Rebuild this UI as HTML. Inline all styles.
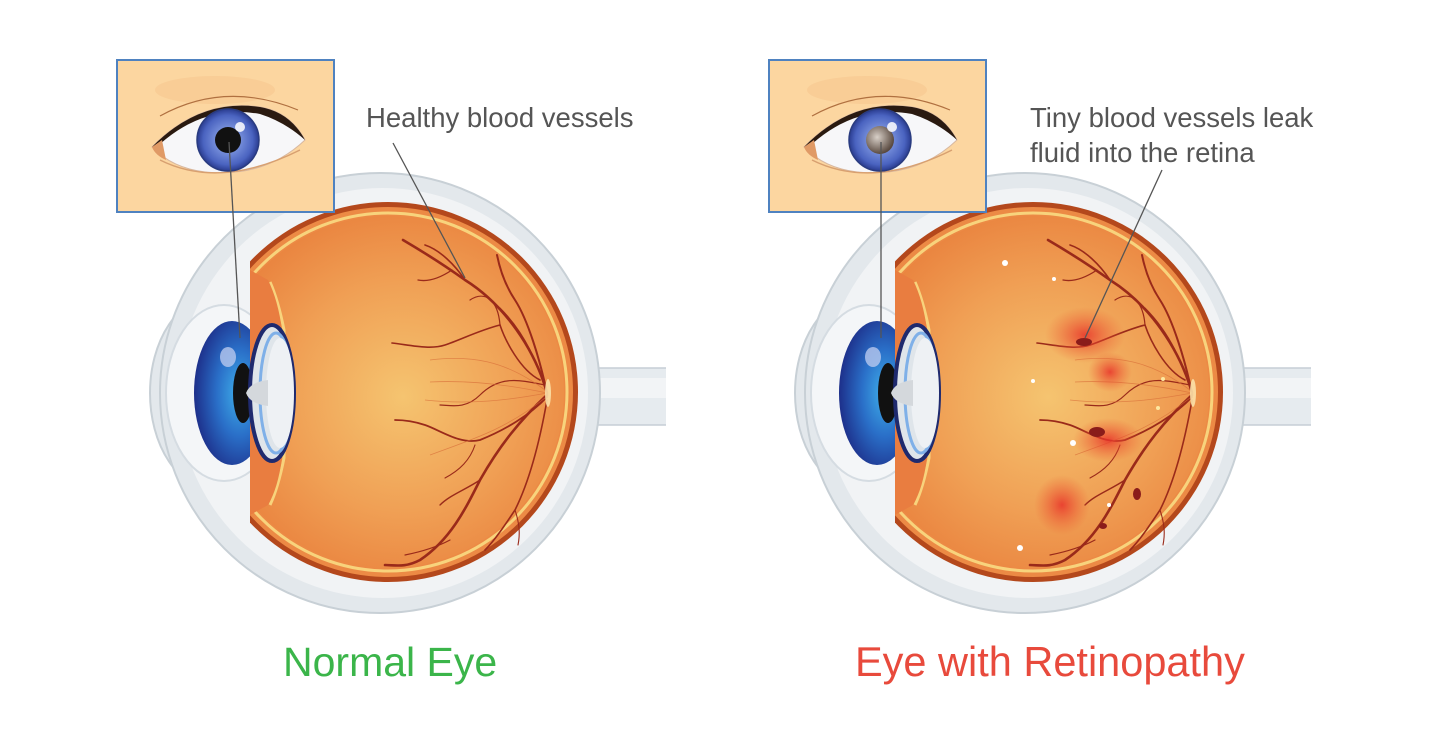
<!DOCTYPE html>
<html><head><meta charset="utf-8"><style>
html,body{margin:0;padding:0;background:#fff;}
svg{display:block;}
</style></head><body>
<svg width="1430" height="746" viewBox="0 0 1430 746" xmlns="http://www.w3.org/2000/svg">
<defs>
<radialGradient id="vit" cx="403" cy="397" r="190" gradientUnits="userSpaceOnUse">
<stop offset="0" stop-color="#f5c470"/><stop offset="0.6" stop-color="#f0a055"/><stop offset="1" stop-color="#ea8540"/></radialGradient>
<radialGradient id="iris" cx="0.6" cy="0.5" r="0.6">
<stop offset="0" stop-color="#3fb0ea"/><stop offset="0.5" stop-color="#2a6fc8"/><stop offset="1" stop-color="#1d2f8a"/></radialGradient>
<radialGradient id="iris2" cx="0.5" cy="0.5" r="0.5">
<stop offset="0.3" stop-color="#7f98e0"/><stop offset="0.8" stop-color="#4a63c0"/><stop offset="1" stop-color="#2a3c90"/></radialGradient>
<radialGradient id="cat" cx="0.4" cy="0.4" r="0.6">
<stop offset="0" stop-color="#d8d0c8"/><stop offset="1" stop-color="#5a4a40"/></radialGradient>
<radialGradient id="blot" cx="0.5" cy="0.5" r="0.5">
<stop offset="0" stop-color="#e8332a" stop-opacity="0.85"/><stop offset="1" stop-color="#ec5a30" stop-opacity="0"/></radialGradient>
<clipPath id="oclip"><rect x="250" y="0" width="500" height="746"/></clipPath>
<g id="globe">
  <rect x="590" y="368" width="76" height="57" fill="#e6ebef"/>
  <rect x="590" y="378" width="76" height="20" fill="#f2f4f6"/>
  <line x1="590" y1="368" x2="666" y2="368" stroke="#c5ced5" stroke-width="1.5"/>
  <line x1="590" y1="425" x2="666" y2="425" stroke="#c5ced5" stroke-width="1.5"/>
  <ellipse cx="215" cy="393" rx="65" ry="97" fill="#e3e8ec" stroke="#c8d0d6" stroke-width="2"/>
  <circle cx="380" cy="393" r="220" fill="#e3e8ec" stroke="#c8d0d6" stroke-width="2"/>
  <circle cx="383" cy="393" r="205" fill="#f1f3f5"/>
  <ellipse cx="224" cy="393" rx="58" ry="88" fill="#f4f6f8" stroke="#d5dce2" stroke-width="2"/>
  <ellipse cx="232" cy="393" rx="38" ry="72" fill="url(#iris)"/>
  <ellipse cx="228" cy="357" rx="8" ry="10" fill="#b8c8ee" opacity="0.8"/>
  <ellipse cx="243" cy="393" rx="10" ry="30" fill="#111"/>
  <g clip-path="url(#oclip)">
    <circle cx="388" cy="392" r="190" fill="#b4481c"/>
    <circle cx="388" cy="392" r="185" fill="#ec8a45"/>
    <circle cx="388" cy="392" r="179" fill="none" stroke="#f8d37c" stroke-width="3"/>
    <circle cx="388" cy="392" r="176" fill="url(#vit)"/>
  </g>
  <path d="M270,282 Q278,300 284,330 L284,458 Q278,488 270,505" fill="none" stroke="#f8d37c" stroke-width="3"/>
  <path d="M250,270 L268,280 Q278,300 282,330 L282,458 Q278,488 268,505 L250,515 Z" fill="#e97d40"/>
  <ellipse cx="272" cy="393" rx="22" ry="68" fill="#dfe5ea" stroke="#1f2a6e" stroke-width="4"/>
  <ellipse cx="276" cy="393" rx="16" ry="60" fill="none" stroke="#7fb0e8" stroke-width="3"/>
  <ellipse cx="280" cy="393" rx="14" ry="55" fill="#eef1f4"/>
  <path d="M268,380 Q250,382 246,393 Q250,404 268,406 Z" fill="#d4d8dc"/>
  <g fill="none" stroke="#9a2a1a" stroke-linecap="round">
    <path d="M547,393 C535,350 505,305 465,280 C440,262 420,250 403,240" stroke-width="2.6"/>
    <path d="M465,280 C455,265 440,250 425,245" stroke-width="1.6"/>
    <path d="M452,270 C440,278 428,282 418,280" stroke-width="1.3"/>
    <path d="M547,393 C540,360 528,320 515,300 C505,285 500,270 497,255" stroke-width="2"/>
    <path d="M530,350 C520,330 510,318 500,308" stroke-width="1.2"/>
    <path d="M540,380 C520,370 505,340 500,325 C480,330 460,340 445,345 C430,350 410,345 392,343" stroke-width="1.6"/>
    <path d="M500,325 C498,300 485,290 470,300" stroke-width="1.2"/>
    <path d="M547,395 C520,420 500,445 480,480 C465,510 450,540 420,560 C405,568 395,565 385,565" stroke-width="2.6"/>
    <path d="M480,480 C465,490 450,495 440,505" stroke-width="1.4"/>
    <path d="M450,540 C435,548 420,552 405,555" stroke-width="1.2"/>
    <path d="M547,397 C530,415 505,430 480,440 C460,445 440,430 425,425 C410,420 400,420 395,420" stroke-width="1.8"/>
    <path d="M547,400 C540,440 530,480 515,510 C505,525 495,540 485,550" stroke-width="1.6"/>
    <path d="M515,510 C520,525 520,535 518,545" stroke-width="1.1"/>
    <path d="M545,385 C520,380 500,375 480,395 C465,410 450,405 440,405" stroke-width="1.2"/>
    <path d="M475,445 C470,460 460,470 445,478" stroke-width="1.1"/>
  </g>
  <g fill="none" stroke="#d9703a" stroke-width="0.8" opacity="0.7">
    <path d="M547,393 C510,385 470,380 430,382"/>
    <path d="M547,393 C510,400 470,405 425,400"/>
    <path d="M545,390 C505,360 470,355 430,360"/>
    <path d="M545,398 C505,430 470,440 430,455"/>
  </g>
  <ellipse cx="548" cy="393" rx="3" ry="14" fill="#fbe0a8" opacity="0.9"/>
</g>
<g id="inset">
  <rect x="117" y="60" width="217" height="152" fill="#fcd6a0" stroke="#4f82c0" stroke-width="2"/>
  <ellipse cx="215" cy="90" rx="60" ry="14" fill="#f5c48c" opacity="0.5"/>
  <path d="M160,116 Q225,80 298,110" fill="none" stroke="#b07040" stroke-width="1.2"/>
  <path d="M152,147 Q200,98 260,107 Q290,112 305,140 Q265,178 205,172 Q172,168 152,147 Z" fill="#f7f7f9" stroke="#d8b8a0" stroke-width="1"/>
  <path d="M152,147 Q200,98 260,107 Q290,112 305,140 Q285,122 260,114 Q205,104 160,144 Z" fill="#2a1a10"/>
  <path d="M152,147 L162,140 L166,160 Q155,155 152,147 Z" fill="#e09a66"/>
  <path d="M160,160 Q220,190 300,150" fill="none" stroke="#d8a070" stroke-width="1.5"/>
</g>
</defs>

<use href="#globe"/>
<use href="#inset"/>
<circle cx="228" cy="140" r="31" fill="url(#iris2)" stroke="#2a3c80" stroke-width="1.5"/>
<circle cx="228" cy="140" r="13" fill="#111"/>
<circle cx="240" cy="127" r="5" fill="#fff" opacity="0.85"/>
<line x1="229" y1="142" x2="240" y2="338" stroke="#555" stroke-width="1.3"/>
<line x1="393" y1="143" x2="465" y2="278" stroke="#555" stroke-width="1.3"/>

<g transform="translate(645,0)"><use href="#globe"/></g>
<g transform="translate(652,0)"><use href="#inset"/>
<circle cx="228" cy="140" r="31" fill="url(#iris2)" stroke="#2a3c80" stroke-width="1.5"/>
<circle cx="228" cy="140" r="14" fill="url(#cat)"/>
<circle cx="240" cy="127" r="5" fill="#fff" opacity="0.85"/>
</g>
<g>
  <ellipse cx="1085" cy="335" rx="40" ry="28" fill="url(#blot)"/>
  <ellipse cx="1110" cy="372" rx="22" ry="20" fill="url(#blot)"/>
  <ellipse cx="1108" cy="440" rx="35" ry="22" fill="url(#blot)"/>
  <ellipse cx="1062" cy="505" rx="28" ry="30" fill="url(#blot)"/>
  <ellipse cx="1084" cy="342" rx="8" ry="4" fill="#8a1c1a"/>
  <ellipse cx="1097" cy="432" rx="8" ry="5" fill="#8a1c1a"/>
  <ellipse cx="1137" cy="494" rx="4" ry="6" fill="#8a1c1a"/>
  <ellipse cx="1103" cy="526" rx="4" ry="3" fill="#8a1c1a"/>
  <g fill="#fff">
    <circle cx="1005" cy="263" r="3"/><circle cx="1054" cy="279" r="2"/>
    <circle cx="1033" cy="381" r="2"/><circle cx="1073" cy="443" r="3"/>
    <circle cx="1020" cy="548" r="3"/><circle cx="1109" cy="505" r="2"/>
    <circle cx="1163" cy="379" r="2" fill="#fde8a0"/><circle cx="1158" cy="408" r="2" fill="#fde8a0"/>
  </g>
</g>
<line x1="881" y1="142" x2="881" y2="338" stroke="#555" stroke-width="1.3"/>
<line x1="1162" y1="170" x2="1085" y2="338" stroke="#555" stroke-width="1.3"/>

<g font-family="Liberation Sans, sans-serif">
<text x="366" y="127" font-size="27.5" fill="#555">Healthy blood vessels</text>
<text x="1030" y="127" font-size="27.5" fill="#555">Tiny blood vessels leak</text>
<text x="1030" y="162" font-size="27.5" fill="#555">fluid into the retina</text>
<text x="283" y="676" font-size="41" fill="#3bb54a">Normal Eye</text>
<text x="855" y="676" font-size="41.5" fill="#e84a3c">Eye with Retinopathy</text>
</g>
</svg>
</body></html>
